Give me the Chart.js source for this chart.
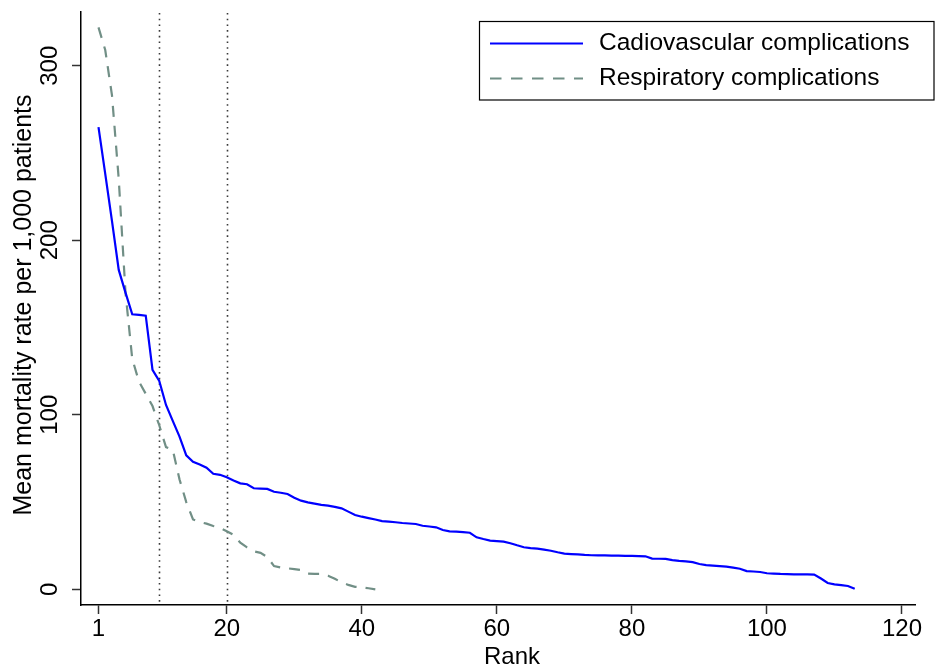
<!DOCTYPE html>
<html>
<head>
<meta charset="utf-8">
<script src="https://cdn.jsdelivr.net/npm/chart.js@4"></script>
<style>
  html, body { margin: 0; padding: 0; background: #fff; }
  #wrap { width: 950px; height: 670px; position: relative; }
</style>
</head>
<body>
<div id="wrap"><canvas id="c"></canvas></div>
<script>
// ---- data ----
const cardioLabel = 'Cadiovascular complications';
const respLabel = 'Respiratory complications';

const cardioValues = [
  264.8, 238, 211, 183, 170, 157.6, 157.2, 156.8, 125.7, 119.4,
  105.6, 96.5, 87.5, 76.8, 73.1, 71.5, 69.7, 66.2, 65.6, 64.2,
  62.3, 60.7, 60.2, 57.9, 57.7, 57.5, 55.9, 55.3, 54.6, 52.5,
  50.8, 49.8, 49.1, 48.4, 47.9, 47.2, 46.4, 44.5, 42.6, 41.6,
  40.8, 40.0, 39.1, 38.8, 38.4, 38.0, 37.7, 37.4, 36.4, 36.0,
  35.5, 34.0, 33.2, 33.0, 32.8, 32.4, 29.8, 28.8, 27.9, 27.6,
  27.3, 26.4, 25.2, 24.1, 23.6, 23.3, 22.7, 22.1, 21.2, 20.4,
  20.2, 20.0, 19.7, 19.5, 19.4, 19.4, 19.3, 19.3, 19.2, 19.1,
  19.0, 18.9, 17.6, 17.5, 17.4, 16.7, 16.3, 16.0, 15.6, 14.5,
  13.9, 13.6, 13.3, 13.0, 12.4, 11.8, 10.4, 10.2, 9.9, 9.2,
  9.0, 8.8, 8.7, 8.6, 8.5, 8.5, 8.4, 6.2, 3.6, 2.8,
  2.4, 1.9, 0.3
];

const respValues = [
  322, 309, 283, 235, 170, 132, 119, 112, 105, 94,
  81.5, 80, 63, 50, 40, 38.5, 37.6, 36.3, 35.2, 33.3,
  31.2, 26.7, 24, 21.8, 20.9, 18.5, 13.3, 12.5, 12.0, 11.6,
  11.0, 9.0, 8.8, 8.8, 7.8, 6.0, 4.0, 2.5, 1.4, 1.1,
  0.6, 0
];

const xTickValues = [1, 20, 40, 60, 80, 100, 120];
const yTickValues = [0, 100, 200, 300];
const refLineRanks = [10, 20];
const xTitle = 'Rank';
const yTitle = 'Mean mortality rate per 1,000 patients';

// ---- styles ----
const FONT = '"Liberation Sans", Arial, Helvetica, sans-serif';
const BLUE = '#0000ff';
const GREY = '#718f86';

const toPoints = vals => vals.map((v, i) => ({ x: i + 1, y: v }));

const overlay = {
  id: 'overlay',
  beforeDatasetsDraw(chart) {
    const { ctx, chartArea, scales: { x } } = chart;
    ctx.save();
    ctx.strokeStyle = '#3a3a3a';
    ctx.lineWidth = 1.6;
    ctx.setLineDash([1.6, 4.1]);
    refLineRanks.forEach(v => {
      const px = Math.round(x.getPixelForValue(v)) + 0.5;
      ctx.beginPath();
      ctx.moveTo(px, chartArea.top + 1);
      ctx.lineTo(px, chartArea.bottom);
      ctx.stroke();
    });
    ctx.restore();
  },
  afterDraw(chart) {
    const { ctx, scales: { y } } = chart;
    ctx.save();
    ctx.fillStyle = '#000';
    // y tick labels (rotated)
    ctx.font = '24px ' + FONT;
    yTickValues.forEach(v => {
      const py = y.getPixelForValue(v);
      ctx.save();
      ctx.translate(56.5, py);
      ctx.rotate(-Math.PI / 2);
      ctx.textAlign = 'center';
      ctx.textBaseline = 'alphabetic';
      ctx.fillText(String(v), 0, 0);
      ctx.restore();
    });
    // y title
    ctx.font = '25px ' + FONT;
    ctx.save();
    ctx.translate(30.5, 305);
    ctx.rotate(-Math.PI / 2);
    ctx.textAlign = 'center';
    ctx.textBaseline = 'alphabetic';
    ctx.fillText(yTitle, 0, 0);
    ctx.restore();
    // x title
    ctx.font = '24px ' + FONT;
    ctx.textAlign = 'center';
    ctx.textBaseline = 'alphabetic';
    ctx.fillText(xTitle, 512, 664);

    // legend
    ctx.lineWidth = 1.2;
    ctx.strokeStyle = '#000';
    ctx.fillStyle = '#fff';
    ctx.fillRect(479.5, 21.5, 454.5, 78.5);
    ctx.strokeRect(479.5, 21.5, 454.5, 78.5);
    const items = [
      { label: cardioLabel, color: BLUE, dash: [], y: 43.5 },
      { label: respLabel, color: GREY, dash: [11.5, 9.5], y: 78.5 }
    ];
    items.forEach(it => {
      ctx.save();
      ctx.strokeStyle = it.color;
      ctx.lineWidth = 2.2;
      ctx.setLineDash(it.dash);
      ctx.beginPath();
      ctx.moveTo(490, it.y);
      ctx.lineTo(583, it.y);
      ctx.stroke();
      ctx.restore();
      ctx.fillStyle = '#000';
      ctx.font = '24.5px ' + FONT;
      ctx.textAlign = 'left';
      ctx.textBaseline = 'middle';
      ctx.fillText(it.label, 599, it.y);
    });
    ctx.restore();
  }
};

new Chart(document.getElementById('c'), {
  type: 'line',
  data: {
    datasets: [
      {
        label: cardioLabel,
        data: toPoints(cardioValues),
        borderColor: BLUE,
        borderWidth: 2.2,
        pointRadius: 0,
        fill: false,
        tension: 0
      },
      {
        label: respLabel,
        data: toPoints(respValues),
        borderColor: GREY,
        borderWidth: 2.2,
        borderDash: [11, 9],
        pointRadius: 0,
        fill: false,
        tension: 0
      }
    ]
  },
  options: {
    responsive: true,
    maintainAspectRatio: false,
    animation: false,
    events: [],
    layout: { padding: { left: 0, top: 12, right: 35, bottom: 0 } },
    plugins: {
      legend: { display: false },
      tooltip: { enabled: false },
      title: { display: false }
    },
    scales: {
      x: {
        type: 'linear',
        min: -1.59,
        max: 121.93,
        afterBuildTicks: s => { s.ticks = xTickValues.map(v => ({ value: v })); },
        afterFit: s => { s.height = 65; },
        grid: {
          drawOnChartArea: false,
          drawTicks: true,
          tickLength: 9,
          tickColor: '#333',
          tickWidth: 1.5
        },
        border: { color: '#000', width: 1.5 },
        ticks: {
          autoSkip: false,
          maxRotation: 0,
          minRotation: 0,
          padding: 1,
          color: '#000',
          font: { family: FONT, size: 24 }
        }
      },
      y: {
        type: 'linear',
        min: -9,
        max: 330.8,
        afterBuildTicks: s => { s.ticks = yTickValues.map(v => ({ value: v })); },
        afterFit: s => { s.width = 81; },
        grid: {
          drawOnChartArea: false,
          drawTicks: true,
          tickLength: 9,
          tickColor: '#333',
          tickWidth: 1.5
        },
        border: { color: '#000', width: 1.5 },
        ticks: { display: false }
      }
    }
  },
  plugins: [overlay]
});
</script>
</body>
</html>
